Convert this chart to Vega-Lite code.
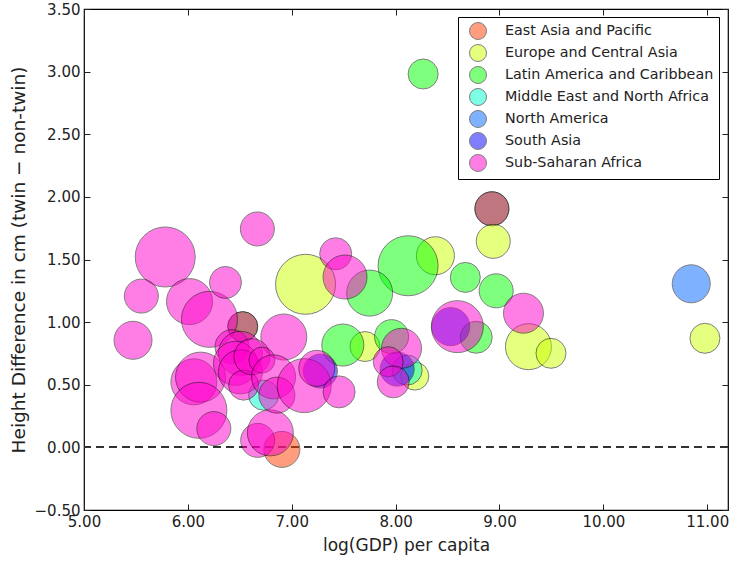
{
  "$schema": "https://vega.github.io/schema/vega-lite/v6.json",
  "width": 644,
  "height": 501,
  "autosize": {"type": "none"},
  "padding": {"left": 84, "top": 9, "right": 2, "bottom": 51},
  "config": {
    "font": "DejaVu Sans",
    "view": {"stroke": "black", "strokeWidth": 1.2},
    "axis": {
      "grid": false,
      "domain": false,
      "tickSize": -6,
      "tickColor": "#222",
      "tickWidth": 1,
      "labelFontSize": 15,
      "titleFontSize": 17,
      "titleFontWeight": "normal",
      "labelColor": "#222",
      "titleColor": "#222",
      "labelOverlap": false,
      "labelFlush": false,
      "labelBound": false
    },
    "legend": {
      "symbolType": "circle",
      "symbolSize": 289,
      "symbolStrokeColor": "black",
      "symbolStrokeWidth": 1,
      "symbolOpacity": 0.5,
      "labelFontSize": 14.3,
      "labelColor": "#222",
      "labelLimit": 400,
      "labelOffset": 18,
      "symbolOffset": 6,
      "padding": 5,
      "rowPadding": 0,
      "strokeColor": "black",
      "fillColor": "white",
      "cornerRadius": 0
    }
  },
  "data": {
    "values": [
      {"region": "North America", "gdp": 6.528, "diff": 0.964, "w": 225},
      {"region": "North America", "gdp": 8.927, "diff": 1.905, "w": 289},
      {"region": "East Asia and Pacific", "gdp": 6.905, "diff": -0.016, "w": 324},
      {"region": "East Asia and Pacific", "gdp": 6.528, "diff": 0.964, "w": 225},
      {"region": "East Asia and Pacific", "gdp": 8.927, "diff": 1.905, "w": 289},
      {"region": "Europe and Central Asia", "gdp": 7.133, "diff": 1.302, "w": 900},
      {"region": "Europe and Central Asia", "gdp": 8.383, "diff": 1.53, "w": 361},
      {"region": "Europe and Central Asia", "gdp": 8.94, "diff": 1.645, "w": 289},
      {"region": "Europe and Central Asia", "gdp": 7.705, "diff": 0.805, "w": 225},
      {"region": "Europe and Central Asia", "gdp": 8.185, "diff": 0.569, "w": 196},
      {"region": "Europe and Central Asia", "gdp": 9.279, "diff": 0.804, "w": 529},
      {"region": "Europe and Central Asia", "gdp": 9.496, "diff": 0.751, "w": 225},
      {"region": "Europe and Central Asia", "gdp": 10.978, "diff": 0.871, "w": 225},
      {"region": "Latin America and Caribbean", "gdp": 8.265, "diff": 2.981, "w": 225},
      {"region": "Latin America and Caribbean", "gdp": 8.12, "diff": 1.45, "w": 900},
      {"region": "Latin America and Caribbean", "gdp": 7.75, "diff": 1.232, "w": 529},
      {"region": "Latin America and Caribbean", "gdp": 7.492, "diff": 0.817, "w": 441},
      {"region": "Latin America and Caribbean", "gdp": 7.961, "diff": 0.884, "w": 289},
      {"region": "Latin America and Caribbean", "gdp": 8.671, "diff": 1.357, "w": 225},
      {"region": "Latin America and Caribbean", "gdp": 8.968, "diff": 1.25, "w": 289},
      {"region": "Latin America and Caribbean", "gdp": 8.776, "diff": 0.879, "w": 256},
      {"region": "Middle East and North Africa", "gdp": 6.729, "diff": 0.417, "w": 225},
      {"region": "Middle East and North Africa", "gdp": 8.111, "diff": 0.617, "w": 225},
      {"region": "North America", "gdp": 10.846, "diff": 1.306, "w": 361},
      {"region": "South Asia", "gdp": 8.531, "diff": 0.964, "w": 361},
      {"region": "South Asia", "gdp": 7.276, "diff": 0.609, "w": 289},
      {"region": "South Asia", "gdp": 8.015, "diff": 0.625, "w": 289},
      {"region": "Sub-Saharan Africa", "gdp": 5.782, "diff": 1.52, "w": 900},
      {"region": "Sub-Saharan Africa", "gdp": 5.552, "diff": 1.208, "w": 289},
      {"region": "Sub-Saharan Africa", "gdp": 5.472, "diff": 0.855, "w": 361},
      {"region": "Sub-Saharan Africa", "gdp": 6.016, "diff": 1.164, "w": 529},
      {"region": "Sub-Saharan Africa", "gdp": 6.208, "diff": 1.022, "w": 784},
      {"region": "Sub-Saharan Africa", "gdp": 6.362, "diff": 1.317, "w": 256},
      {"region": "Sub-Saharan Africa", "gdp": 6.669, "diff": 1.744, "w": 289},
      {"region": "Sub-Saharan Africa", "gdp": 7.423, "diff": 1.546, "w": 256},
      {"region": "Sub-Saharan Africa", "gdp": 7.513, "diff": 1.36, "w": 484},
      {"region": "Sub-Saharan Africa", "gdp": 6.924, "diff": 0.881, "w": 529},
      {"region": "Sub-Saharan Africa", "gdp": 6.058, "diff": 0.523, "w": 529},
      {"region": "Sub-Saharan Africa", "gdp": 6.122, "diff": 0.561, "w": 625},
      {"region": "Sub-Saharan Africa", "gdp": 6.106, "diff": 0.296, "w": 784},
      {"region": "Sub-Saharan Africa", "gdp": 6.25, "diff": 0.15, "w": 289},
      {"region": "Sub-Saharan Africa", "gdp": 6.672, "diff": 0.056, "w": 289},
      {"region": "Sub-Saharan Africa", "gdp": 6.794, "diff": 0.116, "w": 529},
      {"region": "Sub-Saharan Africa", "gdp": 6.425, "diff": 0.804, "w": 289},
      {"region": "Sub-Saharan Africa", "gdp": 6.506, "diff": 0.751, "w": 484},
      {"region": "Sub-Saharan Africa", "gdp": 6.458, "diff": 0.671, "w": 484},
      {"region": "Sub-Saharan Africa", "gdp": 6.506, "diff": 0.603, "w": 484},
      {"region": "Sub-Saharan Africa", "gdp": 6.537, "diff": 0.497, "w": 225},
      {"region": "Sub-Saharan Africa", "gdp": 6.617, "diff": 0.724, "w": 324},
      {"region": "Sub-Saharan Africa", "gdp": 6.713, "diff": 0.697, "w": 169},
      {"region": "Sub-Saharan Africa", "gdp": 6.825, "diff": 0.563, "w": 484},
      {"region": "Sub-Saharan Africa", "gdp": 6.857, "diff": 0.417, "w": 324},
      {"region": "Sub-Saharan Africa", "gdp": 7.12, "diff": 0.493, "w": 729},
      {"region": "Sub-Saharan Africa", "gdp": 7.241, "diff": 0.631, "w": 324},
      {"region": "Sub-Saharan Africa", "gdp": 7.456, "diff": 0.443, "w": 256},
      {"region": "Sub-Saharan Africa", "gdp": 8.057, "diff": 0.791, "w": 400},
      {"region": "Sub-Saharan Africa", "gdp": 7.929, "diff": 0.684, "w": 225},
      {"region": "Sub-Saharan Africa", "gdp": 7.977, "diff": 0.523, "w": 256},
      {"region": "Sub-Saharan Africa", "gdp": 8.594, "diff": 0.964, "w": 676},
      {"region": "Sub-Saharan Africa", "gdp": 9.231, "diff": 1.071, "w": 400}
    ]
  },
  "layer": [
    {
      "mark": {"type": "rule", "strokeDash": [8, 5], "color": "#333", "strokeWidth": 1.4},
      "encoding": {
        "y": {"datum": 0, "type": "quantitative", "scale": {"domain": [-0.5, 3.5], "nice": false, "zero": false}, "axis": null}
      }
    },
    {
      "mark": {"type": "point", "filled": true, "opacity": 0.5, "stroke": "black", "strokeWidth": 1},
      "encoding": {
        "x": {
          "field": "gdp", "type": "quantitative",
          "scale": {"domain": [5, 11.2], "nice": false, "zero": false},
          "axis": {"orient": "bottom", "values": [5, 6, 7, 8, 9, 10, 11], "format": ".2f", "title": "log(GDP) per capita", "labelPadding": 10, "titlePadding": 8}
        },
        "y": {
          "field": "diff", "type": "quantitative",
          "scale": {"domain": [-0.5, 3.5], "nice": false, "zero": false},
          "axis": {"orient": "left", "values": [-0.5, 0, 0.5, 1, 1.5, 2, 2.5, 3, 3.5], "format": ".2f", "title": "Height Difference in cm (twin \u2212 non-twin)", "titleFontSize": 18.5, "labelPadding": 10, "titlePadding": 6}
        },
        "color": {
          "field": "region", "type": "nominal",
          "scale": {
            "domain": ["East Asia and Pacific", "Europe and Central Asia", "Latin America and Caribbean", "Middle East and North Africa", "North America", "South Asia", "Sub-Saharan Africa"],
            "range": ["#ff3d00", "#ccff00", "#00ff00", "#00ffcc", "#0066ff", "#0000ff", "#ff00cc"]
          },
          "legend": {"orient": "none", "legendX": 374, "legendY": 8, "title": null}
        },
        "size": {"field": "w", "type": "quantitative", "scale": {"domain": [0, 1000], "range": [0, 4000], "zero": true}, "legend": null}
      }
    },
    {
      "mark": {"type": "point", "opacity": 0},
      "encoding": {
        "x": {"field": "gdp", "type": "quantitative", "axis": {"orient": "top", "values": [5, 6, 7, 8, 9, 10, 11], "labels": false, "title": null}},
        "y": {"field": "diff", "type": "quantitative", "axis": {"orient": "right", "values": [-0.5, 0, 0.5, 1, 1.5, 2, 2.5, 3, 3.5], "labels": false, "title": null}}
      }
    }
  ],
  "resolve": {"axis": {"x": "independent", "y": "independent"}}
}
